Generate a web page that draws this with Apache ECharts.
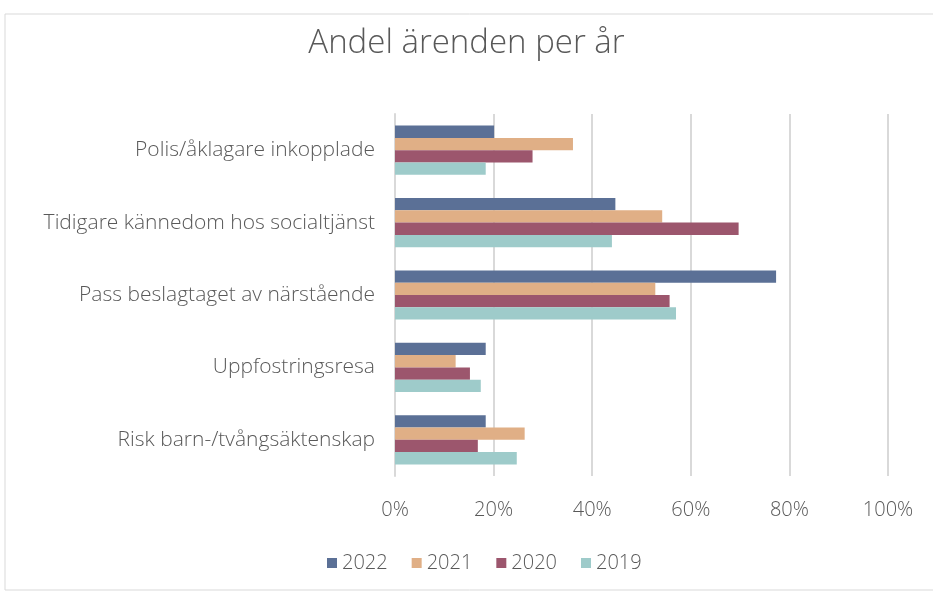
<!DOCTYPE html>
<html>
<head>
<meta charset="utf-8">
<script src="https://cdn.jsdelivr.net/npm/echarts@6/dist/echarts.min.js"></script>
<style>
  html, body { margin: 0; padding: 0; background: #fff; }
  #chart { width: 933px; height: 595px; }
</style>
</head>
<body>
<div id="chart"></div>
<script>
const categories = [
  'Polis/åklagare inkopplade',
  'Tidigare kännedom hos socialtjänst',
  'Pass beslagtaget av närstående',
  'Uppfostringsresa',
  'Risk barn-/tvångsäktenskap'
];
const years = ['2022', '2021', '2020', '2019'];
const values2022 = [20.1, 44.7, 77.3, 18.4, 18.4];
const values2021 = [36.1, 54.2, 52.8, 12.3, 26.3];
const values2020 = [27.9, 69.7, 55.7, 15.2, 16.8];
const values2019 = [18.4, 44.0, 57.0, 17.4, 24.7];
const colors = ['#5b7096', '#e0af86', '#9c566d', '#9ecbca'];

const myChart = echarts.init(document.getElementById('chart'));
const font = 'Open Sans';
const textColor = '#595959';

const allValues = [values2022, values2021, values2020, values2019];

const option = {
  animation: false,
  color: colors,
  title: {
    text: 'Andel ärenden per år',
    left: 'center',
    top: 22,
    textStyle: { fontFamily: font, fontWeight: 300, fontSize: 33, color: textColor }
  },
  legend: {
    bottom: 17,
    left: 322,
    itemWidth: 10,
    itemHeight: 10,
    itemGap: 24,
    icon: 'rect',
    textStyle: { fontFamily: font, fontWeight: 300, fontSize: 20, color: textColor }
  },
  grid: { left: 395, right: 45, top: 114, bottom: 119 },
  xAxis: {
    type: 'value',
    min: 0,
    max: 100,
    interval: 20,
    axisLabel: {
      formatter: '{value}%',
      fontFamily: font, fontWeight: 300, fontSize: 20, color: textColor, margin: 24
    },
    splitLine: { lineStyle: { color: '#d9d9d9', width: 2 } },
    axisLine: { show: false },
    axisTick: { show: false }
  },
  yAxis: {
    type: 'category',
    data: categories,
    inverse: true,
    axisLabel: { fontFamily: font, fontWeight: 300, fontSize: 21, color: textColor, margin: 20 },
    axisLine: { lineStyle: { color: '#d9d9d9', width: 2 } },
    axisTick: { show: false }
  },
  series: years.map((y, i) => ({
    name: y,
    type: 'bar',
    data: allValues[i],
    barGap: '0%',
    barCategoryGap: '32%'
  })),
  graphic: [{
    type: 'rect',
    shape: { x: 5, y: 14, width: 940, height: 576 },
    style: { fill: 'none', stroke: '#d9d9d9', lineWidth: 1 },
    silent: true
  }]
};
myChart.setOption(option);
</script>
</body>
</html>
